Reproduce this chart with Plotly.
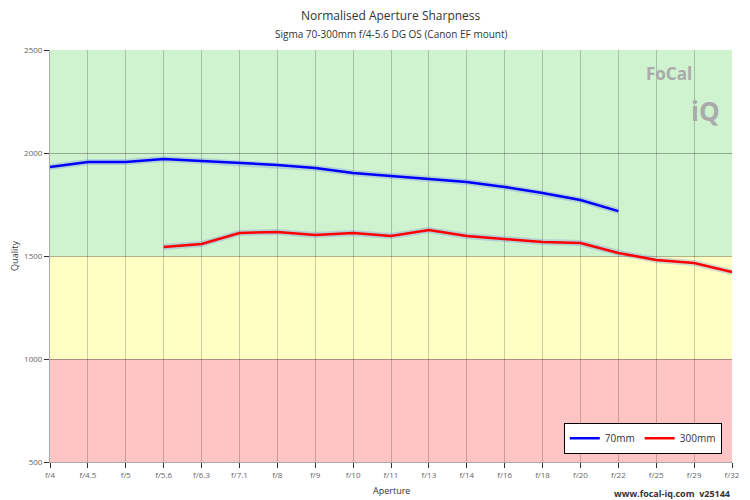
import plotly.graph_objs as go

apertures = ['f/4', 'f/4.5', 'f/5', 'f/5.6', 'f/6.3', 'f/7.1', 'f/8', 'f/9', 'f/10', 'f/11',
             'f/13', 'f/14', 'f/16', 'f/18', 'f/20', 'f/22', 'f/25', 'f/29', 'f/32']
q70 = [1932, 1956, 1956, 1971, 1961, 1951, 1942, 1927, 1903, 1888, 1874, 1859, 1835, 1806, 1772, 1718,
       None, None, None]
q300 = [None, None, None, 1544, 1558, 1612, 1617, 1602, 1612, 1597, 1626, 1597, 1583, 1568, 1563, 1515,
        1481, 1466, 1422]

bands = [(500, 1000, '#ffc4c4'), (1000, 1500, '#ffffc4'), (1500, 2500, '#cff2cf')]

fig = go.Figure()
for name, vals, col in [('70mm', q70, '#0000ff'), ('300mm', q300, '#ff0000')]:
    # soft halo under the line
    fig.add_trace(go.Scatter(x=apertures, y=vals, mode='lines', showlegend=False, hoverinfo='skip',
                             line=dict(color='rgba(120,150,220,0.35)', width=6)))
    fig.add_trace(go.Scatter(x=apertures, y=vals, mode='lines', name=name,
                             line=dict(color=col, width=2.5)))

shapes = []
for y0, y1, c in bands:
    shapes.append(dict(type='rect', xref='paper', yref='y', x0=0, x1=1, y0=y0, y1=y1,
                       fillcolor=c, line_width=0, layer='below'))

fig.update_layout(
    width=750, height=500,
    margin=dict(l=42, r=26, t=42, b=46),
    paper_bgcolor='white', plot_bgcolor='white',
    font=dict(family='Open Sans', size=8, color='#666'),
    shapes=shapes,
    xaxis=dict(range=[0, 18], showgrid=True, gridcolor='rgba(0,0,0,0.2)', ticks='outside',
               ticklen=5, tickcolor='#333', showline=True, linecolor='#aaa', automargin=False),
    yaxis=dict(title=dict(text='Quality', font=dict(size=9, color='#333'), standoff=6),
               range=[500, 2500], tickvals=[500, 1000, 1500, 2000, 2500], showgrid=True,
               gridcolor='rgba(0,0,0,0.3)', ticks='outside', ticklen=5, tickcolor='#333',
               showline=True, linecolor='#aaa', zeroline=False, automargin=False),
    legend=dict(orientation='h', x=0.985, y=0.02, xanchor='right', yanchor='bottom',
                bgcolor='white', bordercolor='black', borderwidth=1, font=dict(size=10, color='#333')),
    annotations=[
        dict(text='Normalised Aperture Sharpness', x=0.5, y=1, xref='paper', yref='paper', yshift=35,
             showarrow=False, yanchor='middle', font=dict(size=12, color='#333')),
        dict(text='Sigma 70-300mm f/4-5.6 DG OS (Canon EF mount)', x=0.5, y=1, xref='paper',
             yref='paper', yshift=16, showarrow=False, yanchor='middle', font=dict(size=10, color='#333')),
        dict(text='Aperture', x=0.5, y=0, xref='paper', yref='paper', yshift=-28, showarrow=False,
             yanchor='middle', font=dict(size=9, color='#333')),
        dict(text='<b>FoCal</b>', x=0.945, y=0.975, xref='paper', yref='paper', showarrow=False,
             font=dict(size=17, color='#aaa'), xanchor='right', yanchor='top'),
        dict(text='<b>iQ</b>', x=0.985, y=0.9, xref='paper', yref='paper', showarrow=False,
             font=dict(size=26, color='#aaa'), xanchor='right', yanchor='top'),
        dict(text='<b>www.focal-iq.com  v25144</b>', x=1, y=0, xref='paper', yref='paper', yshift=-31,
             showarrow=False, xanchor='right', yanchor='middle', font=dict(size=9, color='#333')),
    ],
)

fig.write_html("out.html")
